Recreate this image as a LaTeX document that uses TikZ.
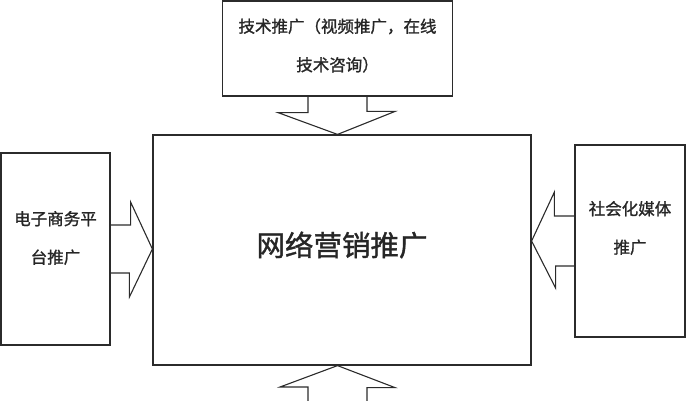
\documentclass[tikz,border=0pt]{standalone}
\usepackage{fontspec}
\usepackage{tikz}
\usetikzlibrary{calc,positioning}
\newfontfamily\cjk[FakeBold=1.2]{Noto Sans CJK SC}
\definecolor{linex}{HTML}{2B2B2B}
\tikzset{
  box/.style={draw=linex,line width=1.2pt,fill=white,inner sep=0pt},
  txt/.style={align=center,inner sep=0pt,text=black!85,font=\cjk\fontsize{16.5}{38.5}\selectfont},
  blk/.style={draw=linex,line width=1.1pt,line join=miter}
}
\begin{document}
\begin{tikzpicture}[x=1pt,y=-1pt]
\useasboundingbox (0,0) rectangle (687,400);
% boxes
\node[box,minimum width=378pt,minimum height=230pt] (main) at (342,250) {};
\node[box,minimum width=230pt,minimum height=95pt] (tech) at (337.5,48.5) {};
\node[box,minimum width=109pt,minimum height=192pt] (ecom) at (55.5,249) {};
\node[box,minimum width=110pt,minimum height=192pt] (social) at (630,241) {};
% texts
\node[txt,font=\cjk\fontsize{28.5}{34}\selectfont] (main-t) at ([yshift=5pt]main.center) {网络营销推广};
\node[txt] (tech-t) at ([yshift=3pt]tech.center) {技术推广（视频推广，在线\\技术咨询）};
\node[txt] (ecom-t) at ([yshift=11pt]ecom.center) {电子商务平\\台推广};
\node[txt] (social-t) at ([yshift=13pt]social.center) {社会化媒体\\推广};
\coordinate (base) at (337.5,402);
% block arrows
\draw[blk] ([xshift=-29.5pt]tech.south) -- ++(0,16) -- ++(-30,0) -- (tech.south |- main.north)
  -- ++(57.5,-23) -- ++(-28,0) -- ([xshift=29.5pt]tech.south);
\draw[blk] ([yshift=24pt]ecom.east) -- ++(20,0) -- ++(0,-23) -- (main.west |- ecom.east)
  -- ++(-23,48) -- ++(0,-24) -- ([yshift=-24pt]ecom.east);
\draw[blk] ([yshift=25pt]social.west) -- ++(-20,0) -- ++(0,-24) -- (main.east |- social.west)
  -- ++(24,47) -- ++(0,-22) -- ([yshift=-25pt]social.west);
\draw[blk] ([xshift=-29.5pt]base) -- ++(0,-15) -- ++(-28,0) -- (tech.south |- main.south)
  -- ++(57.5,22) -- ++(-28,0) -- ([xshift=29.5pt]base);
\end{tikzpicture}
\end{document}
